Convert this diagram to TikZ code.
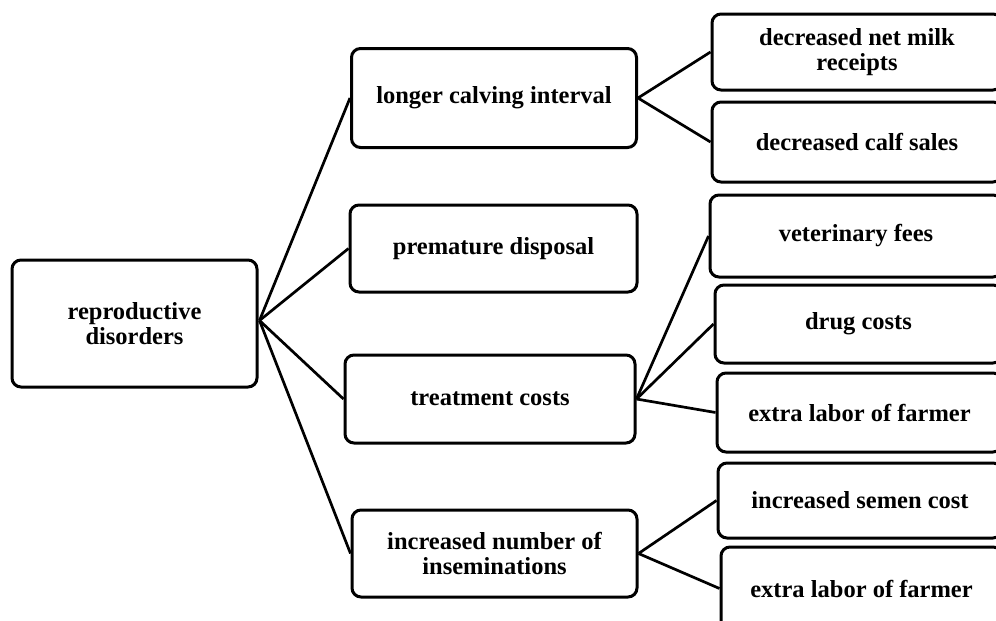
\documentclass[tikz,border=0pt]{standalone}
\usepackage{fontspec}
\setmainfont{Liberation Serif}
\begin{document}
\begin{tikzpicture}[x=1pt,y=-1pt,
  box/.style={draw=black, line width=3pt, rounded corners=9pt, align=center,
    font=\fontsize{24.5}{25}\selectfont\bfseries, inner sep=0pt, fill=white},
  link/.style={draw=black, line width=2.7pt}]
\useasboundingbox (0,0) rectangle (996,621);
\clip (0,0) rectangle (996,621);
\fill[white] (0,0) rectangle (996,621);
% root
\node[box, minimum width=245pt, minimum height=127pt] (rep) at (134.5,323.5) {reproductive\\disorders};
% middle column
\node[box, minimum width=285pt, minimum height=99pt] (lci) at (494,98) {longer calving interval};
\node[box, minimum width=287pt, minimum height=87pt] (pd) at (493.5,248.5) {premature disposal};
\node[box, minimum width=290pt, minimum height=88pt] (tc) at (490,399) {treatment costs};
\node[box, minimum width=285pt, minimum height=87pt] (inc) at (494.5,553.5) {increased number of\\inseminations};
% right column
\node[box, minimum width=290pt, minimum height=76pt] (dnm) at (857,52) {decreased net milk\\receipts};
\node[box, minimum width=290pt, minimum height=80pt] (dcs) at (857,142) {decreased calf sales};
\node[box, minimum width=292pt, minimum height=82pt] (vf) at (856,236) {veterinary fees};
\node[box, minimum width=287pt, minimum height=78pt] (dc) at (858.5,324) {drug costs};
\node[box, minimum width=285pt, minimum height=79pt] (el1) at (859.5,412.5) {extra labor of farmer};
\node[box, minimum width=284pt, minimum height=75pt] (sc) at (860,500.5) {increased semen cost};
\node[box, minimum width=281pt, minimum height=83pt] (el2) at (861.5,588.5) {extra labor of farmer};
% connectors
\coordinate (hub) at ([xshift=1pt,yshift=3pt]rep.east);
\draw[link] (hub) -- (lci.west);
\draw[link] (hub) -- (pd.west);
\draw[link] (hub) -- (tc.west);
\draw[link] (hub) -- (inc.west);
\draw[link] (lci.east) -- (dnm.west);
\draw[link] (lci.east) -- (dcs.west);
\draw[link] (tc.east) -- (vf.west);
\draw[link] (tc.east) -- (dc.west);
\draw[link] (tc.east) -- (el1.west);
\draw[link] (inc.east) -- (sc.west);
\draw[link] (inc.east) -- (el2.west);
\end{tikzpicture}
\end{document}
